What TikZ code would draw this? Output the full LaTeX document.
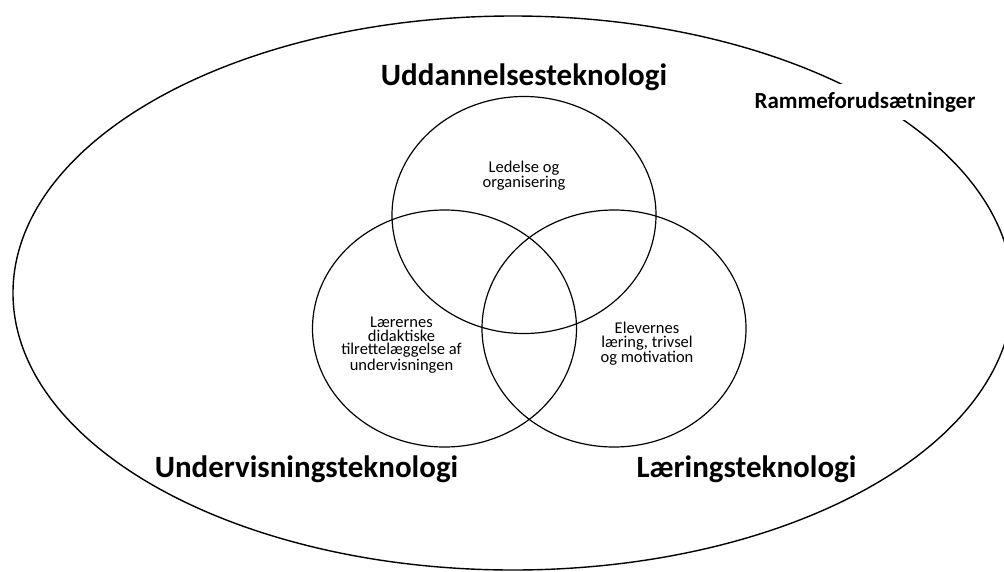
\documentclass[tikz,border=0pt]{standalone}
\usepackage{fontspec}
\setmainfont{Carlito}
\usetikzlibrary{shapes.geometric, positioning}

\begin{document}
\begin{tikzpicture}[
    x=1pt, y=-1pt,
    frame/.style={draw, ellipse, line width=1.4pt, minimum width=1000pt, minimum height=554pt, inner sep=0pt},
    venn/.style={draw, ellipse, line width=1.2pt, minimum width=264pt, minimum height=237pt, inner sep=0pt},
    title/.style={font=\fontsize{31}{34}\selectfont\bfseries, anchor=base, inner sep=0pt},
    area/.style={font=\fontsize{16.5}{13.5}\selectfont, align=center, inner sep=0pt}
]
    \useasboundingbox (0,0) rectangle (1004,571);

    % Outer frame
    \node[frame] (ramme) at (513,293) {};
    \node[font=\fontsize{23}{25}\selectfont\bfseries, anchor=base, fill=white, inner xsep=2pt, inner ysep=8pt] (rammelbl) at (865,108) {Rammeforudsætninger};

    % The three technologies
    \node[venn] (udd) at (524,215) {};
    \node[venn] (und) at (444.5,328.5) {};
    \node[venn] (laer) at (614,328.5) {};

    % Titles
    \node[title] (uddlbl) at (524,85) {Uddannelsesteknologi};
    \node[title] (undlbl) at (306.5,477) {Undervisningsteknologi};
    \node[title] (laerlbl) at (746.5,477) {Læringsteknologi};

    % Areas
    \node[area] (ledelse) at (524,176) {Ledelse og\\organisering};
    \node[area] (didaktik) at (401.5,345) {Lærernes\\didaktiske\\tilrettelæggelse af\\undervisningen};
    \node[area] (elever) at (647,344) {Elevernes\\læring, trivsel\\og motivation};
\end{tikzpicture}
\end{document}
